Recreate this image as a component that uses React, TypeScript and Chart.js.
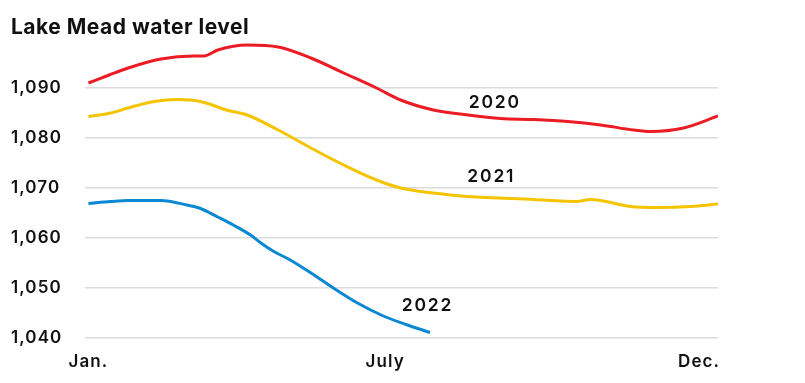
import React, { useEffect, useRef } from 'react';
import { Chart, registerables } from 'chart.js';

Chart.register(...registerables);

const chartTitle = 'Lake Mead water level';

const xTickDays = [0, 172, 354];
const xTickLabels = ['Jan.', 'July', 'Dec.'];
const yTickValues = [1040, 1050, 1060, 1070, 1080, 1090];

const days2020 = [0, 12, 23, 42, 61, 67, 75, 92, 110, 129, 148, 167, 181, 200, 220, 239, 258, 278, 297, 316, 326, 345, 365];
const level2020 = [1091.0, 1092.6, 1094.0, 1095.8, 1096.4, 1096.4, 1097.6, 1098.6, 1098.2, 1096.0, 1093.0, 1090.0, 1087.6, 1085.6, 1084.6, 1083.9, 1083.7, 1083.3, 1082.6, 1081.6, 1081.3, 1082.0, 1084.4];

const days2021 = [0, 13, 23, 38, 52, 65, 80, 92, 110, 129, 148, 167, 181, 200, 220, 258, 283, 291, 297, 314, 330, 349, 365];
const level2021 = [1084.3, 1085.0, 1086.0, 1087.3, 1087.7, 1087.3, 1085.6, 1084.6, 1081.6, 1078.0, 1074.6, 1071.6, 1070.0, 1069.0, 1068.3, 1067.7, 1067.3, 1067.7, 1067.5, 1066.3, 1066.1, 1066.3, 1066.8];

const days2022 = [0, 13, 23, 42, 57, 65, 75, 84, 94, 100, 107, 117, 129, 142, 156, 171, 185, 198];
const level2022 = [1066.9, 1067.3, 1067.5, 1067.5, 1066.6, 1065.9, 1064.2, 1062.6, 1060.6, 1059.0, 1057.4, 1055.6, 1053.0, 1050.0, 1047.0, 1044.4, 1042.6, 1041.1];

const seriesNames = ['2020', '2021', '2022'];
const seriesColors = ['#ec1c24', '#f5c400', '#0a88d4'];
const seriesLabelDays = [235, 233, 196];
const seriesLabelLevels = [1087.0, 1072.2, 1046.4];

const FONT = 'Inter, "Noto Sans", sans-serif';

const toPoints = (xs: number[], ys: number[]) => xs.map((x, i) => ({ x, y: ys[i] }));

const spacingPlugin = {
  id: 'spacing',
  beforeDraw(chart: any) {
    (chart.ctx as any).letterSpacing = '0.5px';
  },
  afterDatasetsDraw(chart: any) {
    const { ctx, scales } = chart;
    (ctx as any).letterSpacing = '1.8px';
    ctx.save();
    ctx.font = `600 17.5px ${FONT}`;
    ctx.fillStyle = '#111';
    ctx.textAlign = 'center';
    ctx.textBaseline = 'middle';
    seriesNames.forEach((name, i) => {
      const px = scales.x.getPixelForValue(seriesLabelDays[i]);
      const py = scales.y.getPixelForValue(seriesLabelLevels[i]);
      ctx.fillText(name, px + 1, py);
    });
    ctx.restore();
    (ctx as any).letterSpacing = '1.1px';
  },
  afterDraw(chart: any) {
    (chart.ctx as any).letterSpacing = '0px';
  },
};

export default function App() {
  const ref = useRef<HTMLCanvasElement>(null);
  useEffect(() => {
    const chart = new Chart(ref.current as HTMLCanvasElement, {
      type: 'line',
      data: {
        datasets: [
          { label: seriesNames[0], data: toPoints(days2020, level2020), borderColor: seriesColors[0] },
          { label: seriesNames[1], data: toPoints(days2021, level2021), borderColor: seriesColors[1] },
          { label: seriesNames[2], data: toPoints(days2022, level2022), borderColor: seriesColors[2] },
        ].map((d) => ({
          ...d,
          borderWidth: 3,
          pointRadius: 0,
          fill: false,
          cubicInterpolationMode: 'monotone' as const,
        })),
      },
      options: {
        responsive: false,
        animation: false,
        layout: { padding: { left: 11, right: 87, top: 0, bottom: 0 } },
        plugins: {
          legend: { display: false },
          tooltip: { enabled: false },
          title: {
            display: true,
            text: chartTitle,
            align: 'start',
            color: '#111',
            font: { family: FONT, size: 21, weight: 'bold', lineHeight: 1.0 },
            padding: { top: 17, bottom: 0 },
          },
        },
        scales: {
          x: {
            type: 'linear',
            min: -2,
            max: 365,
            grid: { display: false },
            border: { display: false },
            afterBuildTicks: (axis: any) => {
              axis.ticks = xTickDays.map((v) => ({ value: v }));
            },
            afterFit: (axis: any) => {
              axis.height = 45;
            },
            ticks: {
              z: 1,
              autoSkip: false,
              maxRotation: 0,
              padding: 6,
              color: '#111',
              font: { family: FONT, size: 17, weight: 600 },
              callback: (_v: any, i: number) => xTickLabels[i],
            },
          },
          y: {
            min: 1040,
            max: 1100,
            grid: {
              color: (c: any) => (yTickValues.includes(c.tick?.value) ? '#dcdcdc' : 'rgba(0,0,0,0)'),
              lineWidth: 1.5,
              drawTicks: false,
            },
            border: { display: false },
            afterFit: (axis: any) => {
              axis.width = 74;
            },
            ticks: {
              z: 1,
              stepSize: 10,
              crossAlign: 'far',
              padding: 8,
              color: '#111',
              font: { family: FONT, size: 17, weight: 600 },
              callback: (v: any) => (yTickValues.includes(Number(v)) ? Number(v).toLocaleString('en-US') : ''),
            },
          },
        },
      },
      plugins: [spacingPlugin],
    } as any);
    return () => chart.destroy();
  }, []);
  return (
    <div style={{ position: 'absolute', left: 0, top: 0, width: 805, height: 383, background: '#fff' }}>
      <canvas ref={ref} width={805} height={383} />
    </div>
  );
}
